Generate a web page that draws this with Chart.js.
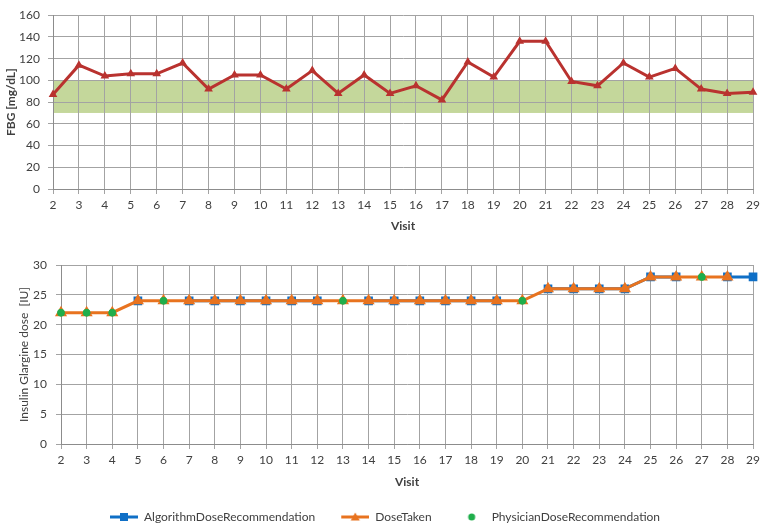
<!DOCTYPE html>
<html>
<head>
<meta charset="utf-8">
<script src="https://cdn.jsdelivr.net/npm/chart.js@4.4.1/dist/chart.umd.min.js"></script>
<style>
  body { margin: 0; background: #fff; overflow: hidden; }
  #fbgChart { position: absolute; left: 0; top: 0; }
  #doseChart { position: absolute; left: 0; top: 245px; }
</style>
</head>
<body>
<canvas id="fbgChart" width="764" height="235"></canvas>
<canvas id="doseChart" width="764" height="288"></canvas>
<script>
// visits on the x axis (shared by both charts)
const visits = [2, 3, 4, 5, 6, 7, 8, 9, 10, 11, 12, 13, 14, 15, 16, 17, 18, 19, 20, 21, 22, 23, 24, 25, 26, 27, 28, 29];

// fasting blood glucose per visit, mg/dL
const fbg = [87, 114, 104, 106, 106, 116, 92, 105, 105, 92, 109, 88, 105, 88, 95, 82, 117, 103, 136, 136, 99, 95, 116, 103, 111, 92, 88, 89];
const targetLow = 70;
const targetHigh = 100;

// insulin doses per visit, IU
const algorithmDose = [null, null, null, 24, null, 24, 24, 24, 24, 24, 24, null, 24, 24, 24, 24, 24, 24, null, 26, 26, 26, 26, 28, 28, null, 28, 28];
const doseTaken = [22, 22, 22, 24, 24, 24, 24, 24, 24, 24, 24, 24, 24, 24, 24, 24, 24, 24, 24, 26, 26, 26, 26, 28, 28, 28, 28, null];
const physicianDose = [22, 22, 22, null, 24, null, null, null, null, null, null, 24, null, null, null, null, null, null, 24, null, null, null, null, null, null, 28, null, null];

const FONT = 'Lato, "Open Sans", sans-serif';
const TEXT = '#404040';
const GRID = '#a3a3a3';
const RED = '#b9322f';
const BLUE = '#0f6fc6';
const ORANGE = '#e8731f';
const GREEN = '#1fae4b';

const targetBand = {
    id: 'targetBand',
    beforeDraw(chart) {
        const { ctx, chartArea, scales } = chart;
        const top = scales.y.getPixelForValue(targetHigh);
        const bottom = scales.y.getPixelForValue(targetLow);
        ctx.save();
        ctx.fillStyle = '#c4d79b';
        ctx.fillRect(chartArea.left, top, chartArea.right - chartArea.left, bottom - top);
        ctx.restore();
    }
};

function xAxis(height, titlePad) {
    return {
        type: 'category',
        offset: false,
        grid: { color: GRID, tickLength: 5 },
        border: { color: '#8c8c8c' },
        ticks: { color: TEXT, font: { family: FONT, size: 12 }, padding: 4, autoSkip: false, maxRotation: 0 },
        title: { display: true, text: 'Visit', color: TEXT, font: { family: FONT, size: 12, weight: 'bold' }, padding: { top: 0, bottom: titlePad } },
        afterFit: s => { s.height = height; }
    };
}

function yAxis(max, step, width, title, bold, titlePad, tickPad) {
    return {
        min: 0,
        max: max,
        grid: { color: GRID, tickLength: 5 },
        border: { color: '#8c8c8c' },
        ticks: { stepSize: step, color: TEXT, font: { family: FONT, size: 12 }, padding: tickPad },
        title: { display: true, text: title, color: TEXT, font: { family: FONT, size: 12, weight: bold ? 'bold' : 'normal' }, padding: { top: titlePad, bottom: 0 } },
        afterFit: s => { s.width = width; }
    };
}

new Chart(document.getElementById('fbgChart'), {
    type: 'line',
    data: {
        labels: visits,
        datasets: [{
            label: 'FBG',
            data: fbg,
            borderColor: RED,
            backgroundColor: RED,
            borderWidth: 3,
            pointStyle: 'triangle',
            pointRadius: 2,
            tension: 0
        }]
    },
    options: {
        responsive: false,
        animation: false,
        devicePixelRatio: 1,
        layout: { padding: { top: 8, right: 10, bottom: 0, left: 0 } },
        plugins: { legend: { display: false }, tooltip: { enabled: false } },
        scales: {
            x: xAxis(46, 2),
            y: yAxis(160, 20, 53, 'FBG [mg/dL]', true, 4, 8)
        }
    },
    plugins: [targetBand]
});

// legend icons: line with marker, like the spreadsheet legend
function legendIcon(color, marker, withLine) {
    const c = document.createElement('canvas');
    c.width = 44;
    c.height = 12;
    const ctx = c.getContext('2d');
    ctx.fillStyle = color;
    ctx.strokeStyle = color;
    if (withLine) {
        ctx.lineWidth = 3;
        ctx.beginPath();
        ctx.moveTo(16, 6);
        ctx.lineTo(44, 6);
        ctx.stroke();
    }
    ctx.beginPath();
    if (marker === 'rect') {
        ctx.rect(26, 2, 8, 8);
    } else if (marker === 'triangle') {
        ctx.moveTo(30, 1.5);
        ctx.lineTo(34.5, 9.5);
        ctx.lineTo(25.5, 9.5);
        ctx.closePath();
    } else {
        ctx.arc(30, 6, 3.5, 0, Math.PI * 2);
    }
    ctx.fill();
    return c;
}

const legendIcons = [
    legendIcon(BLUE, 'rect', true),
    legendIcon(ORANGE, 'triangle', true),
    legendIcon(GREEN, 'circle', false)
];

new Chart(document.getElementById('doseChart'), {
    type: 'line',
    data: {
        labels: visits,
        datasets: [{
            label: 'AlgorithmDoseRecommendation',
            data: algorithmDose,
            borderColor: BLUE,
            backgroundColor: BLUE,
            borderWidth: 3,
            pointStyle: 'rect',
            pointRadius: 4,
            spanGaps: false,
            order: 3
        }, {
            label: 'DoseTaken',
            data: doseTaken,
            borderColor: ORANGE,
            backgroundColor: ORANGE,
            borderWidth: 3,
            pointStyle: 'triangle',
            pointRadius: 4,
            order: 2
        }, {
            label: 'PhysicianDoseRecommendation',
            data: physicianDose,
            borderColor: GREEN,
            backgroundColor: GREEN,
            showLine: false,
            pointStyle: 'circle',
            pointRadius: 3.5,
            order: 1
        }]
    },
    options: {
        responsive: false,
        animation: false,
        devicePixelRatio: 1,
        layout: { padding: { top: 20, right: 10, bottom: 0, left: 0 } },
        plugins: {
            tooltip: { enabled: false },
            legend: {
                position: 'bottom',
                labels: {
                    usePointStyle: true,
                    pointStyleWidth: 44,
                    padding: 10,
                    color: TEXT,
                    font: { family: FONT, size: 12 },
                    generateLabels: chart => chart.data.datasets.map((ds, i) => ({
                        text: ds.label,
                        pointStyle: legendIcons[i],
                        fillStyle: ds.backgroundColor,
                        strokeStyle: ds.borderColor,
                        lineWidth: 0,
                        fontColor: TEXT,
                        hidden: false,
                        datasetIndex: i
                    }))
                }
            }
        },
        scales: {
            x: xAxis(57, 12),
            y: yAxis(30, 5, 61, 'Insulin Glargine dose  [IU]', false, 17, 9)
        }
    }
});
</script>
</body>
</html>
